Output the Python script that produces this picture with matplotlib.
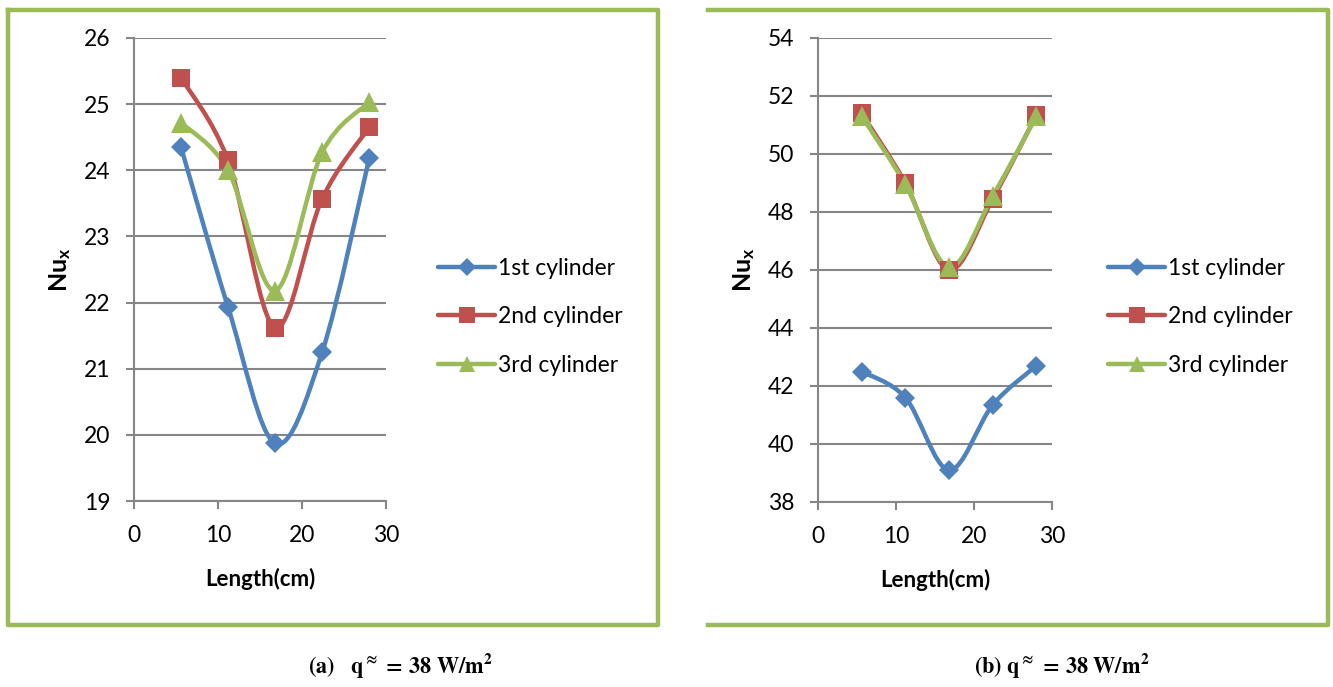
import matplotlib
matplotlib.use('Agg')
import matplotlib.pyplot as plt
from matplotlib.path import Path
from matplotlib.patches import PathPatch
from matplotlib.lines import Line2D

plt.rcParams['font.family'] = ['Lato', 'DejaVu Sans']
plt.rcParams['mathtext.fontset'] = 'custom'
plt.rcParams['mathtext.rm'] = 'Lato'
plt.rcParams['mathtext.bf'] = 'Lato:bold'

# Position along the cylinder (cm)
length_cm = [5.6, 11.2, 16.8, 22.4, 28.0]

# (a) Nu_x values
nu_a_1st = [24.35, 21.93, 19.87, 21.25, 24.18]
nu_a_2nd = [25.40, 24.15, 21.62, 23.57, 24.65]
nu_a_3rd = [24.72, 24.00, 22.18, 24.27, 25.03]

# (b) Nu_x values
nu_b_1st = [42.50, 41.60, 39.10, 41.35, 42.70]
nu_b_2nd = [51.40, 49.00, 46.00, 48.45, 51.35]
nu_b_3rd = [51.30, 48.95, 46.10, 48.55, 51.30]

series_labels = ['1st cylinder', '2nd cylinder', '3rd cylinder']
series_colors = ['#4F81BD', '#C0504D', '#9BBB59']
series_markers = ['D', 's', '^']
marker_sizes = [10.5, 13, 14]

W, H = 1333, 687
fig = plt.figure(figsize=(W / 100, H / 100), dpi=100)


def px_axes(x0, y0, x1, y1):
    return fig.add_axes([x0 / W, 1 - y1 / H, (x1 - x0) / W, (y1 - y0) / H])


def smooth_path(x, y):
    # Bezier smoothing through the points (Catmull-Rom style control points)
    pts = list(zip(x, y))
    n = len(pts)
    verts = [pts[0]]
    codes = [Path.MOVETO]
    for i in range(n - 1):
        p0 = pts[max(i - 1, 0)]
        p1 = pts[i]
        p2 = pts[i + 1]
        p3 = pts[min(i + 2, n - 1)]
        c1 = (p1[0] + (p2[0] - p0[0]) / 6, p1[1] + (p2[1] - p0[1]) / 6)
        c2 = (p2[0] - (p3[0] - p1[0]) / 6, p2[1] - (p3[1] - p1[1]) / 6)
        verts += [c1, c2, p2]
        codes += [Path.CURVE4] * 3
    return Path(verts, codes)


def draw_panel(ax, series, ylim, yticks, legend_x):
    for ys, col, mk, ms in zip(series, series_colors, series_markers, marker_sizes):
        ax.add_patch(PathPatch(smooth_path(length_cm, ys), fill=False,
                               edgecolor=col, lw=3.2, capstyle='round',
                               joinstyle='round', zorder=3))
        ax.plot(length_cm, ys, ls='none', marker=mk, ms=ms, color=col,
                markeredgewidth=0, zorder=4)
    ax.set_xlim(0, 30)
    ax.set_ylim(*ylim)
    ax.set_xticks([0, 10, 20, 30])
    ax.set_yticks(yticks)
    ax.yaxis.grid(True, color='#868686', lw=1.5)
    ax.set_axisbelow(True)
    for s in ['top', 'right']:
        ax.spines[s].set_visible(False)
    for s in ['left', 'bottom']:
        ax.spines[s].set_color('#868686')
        ax.spines[s].set_linewidth(1.5)
    ax.tick_params(axis='both', direction='out', length=6, width=1.5,
                   color='#868686', labelsize=16.5, pad=11)
    ax.set_xlabel('Length(cm)', fontsize=16, fontweight='bold', labelpad=16)
    ax.set_ylabel(r'$\mathbf{Nu_x}$', fontsize=18, labelpad=8)

    handles = [Line2D([], [], color=c, lw=3.2, marker=m, ms=s * 0.85,
                      markeredgewidth=0, solid_capstyle='round')
               for c, m, s in zip(series_colors, series_markers, marker_sizes)]
    fig.legend(handles, series_labels, loc='center left',
               bbox_to_anchor=(legend_x / W, 1 - 317 / H), frameon=False,
               fontsize=16.5, handlelength=2.5, handletextpad=0.1,
               labelspacing=1.2, borderpad=0, borderaxespad=0)


ax_a = px_axes(134, 38, 386, 501)
draw_panel(ax_a, [nu_a_1st, nu_a_2nd, nu_a_3rd], (19, 26), range(19, 27), 438)

ax_b = px_axes(818, 38, 1052, 502)
draw_panel(ax_b, [nu_b_1st, nu_b_2nd, nu_b_3rd], (38, 54), range(38, 55, 2), 1108)

# green frames around the two charts
border = dict(color='#9BBB59', lw=3.2, transform=fig.transFigure,
              solid_capstyle='projecting')
def fig_line(xs, ys):
    fig.add_artist(Line2D([x / W for x in xs], [1 - y / H for y in ys], **border))

fig_line([8, 658, 658, 8, 8], [10, 10, 625, 625, 10])
fig_line([708, 1328, 1328, 708], [10, 10, 625, 625])

# captions
fig.text(400 / W, 1 - 666 / H, r'$\mathbf{(a)\quad q^{\approx}\,=\,38\ W/m^{2}}$',
         ha='center', va='center', fontsize=16, math_fontfamily='stix')
fig.text(1062 / W, 1 - 666 / H, r'$\mathbf{(b)\ q^{\approx}\,=\,38\ W/m^{2}}$',
         ha='center', va='center', fontsize=16, math_fontfamily='stix')

fig.savefig('out.png', dpi=100)
